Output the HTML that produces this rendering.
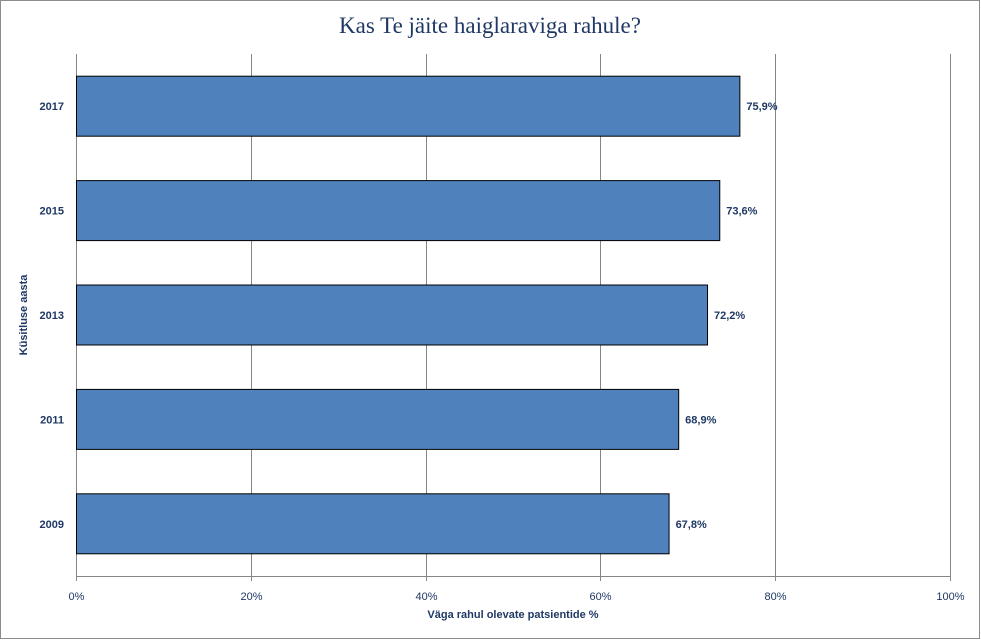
<!DOCTYPE html>
<html><head><meta charset="utf-8"><style>
body{margin:0;background:#fff;}
svg{display:block;font-family:"Liberation Sans",sans-serif;}
</style></head><body>
<svg id="c" width="981" height="640">
<rect x="0.5" y="0.5" width="979" height="638" fill="#fff" stroke="#8c8c8c"/>
<text x="490" y="33" text-anchor="middle" font-family="Liberation Serif, serif" font-size="23" fill="#1f3864">Kas Te jäite haiglaraviga rahule?</text>
<text x="513" y="618" text-anchor="middle" font-size="11" font-weight="bold" fill="#1f3864">Väga rahul olevate patsientide %</text>
<text transform="translate(27,315) rotate(-90)" text-anchor="middle" font-size="11" font-weight="bold" fill="#1f3864">Küsitluse aasta</text>
<g id="grid"></g><g id="bars"></g><g id="labels"></g>
</svg>
<script>
const categories=["2017","2015","2013","2011","2009"];
const values=[75.9,73.6,72.2,68.9,67.8];
const valueLabels=["75,9%","73,6%","72,2%","68,9%","67,8%"];
const ticks=[0,20,40,60,80,100];
const tickLabels=["0%","20%","40%","60%","80%","100%"];
const NS="http://www.w3.org/2000/svg";
const x0=76,x1=950,plotTop=54,plotBot=576;
const xs=v=>x0+(x1-x0)*v/100;
const band=(plotBot-plotTop)/categories.length;
const yc=i=>plotTop+band*(i+0.5);
function mk(t,a,p){const e=document.createElementNS(NS,t);for(const k in a)e.setAttribute(k,a[k]);document.getElementById(p).appendChild(e);return e;}
ticks.forEach((t,i)=>{
 const x=Math.round(xs(t))+0.5;
 const l=mk("line",{x1:x,x2:x,y1:plotTop,y2:plotBot+5,stroke:"#868686"},"grid");
 
 
 const tx=mk("text",{x:x,y:600,"text-anchor":"middle","font-size":"11",fill:"#1f3864"},"labels");
 tx.textContent=tickLabels[i];
 
 
});
const ax=mk("line",{x1:x0,x2:x1,y1:plotBot+0.5,y2:plotBot+0.5,stroke:"#868686"},"grid");


categories.forEach((c,i)=>{
 const bh=60,y=yc(i)-bh/2;
 const r=mk("rect",{x:x0+0.5,y:y,width:xs(values[i])-x0,height:bh,fill:"#4f81bd",stroke:"#000","stroke-width":"1"},"bars");
 
 
 const v=mk("text",{x:xs(values[i])+7,y:yc(i)+4,"font-size":"11","font-weight":"bold",fill:"#1f3864"},"labels");
 v.textContent=valueLabels[i];
 
 
 const cl=mk("text",{x:64,y:yc(i)+4,"text-anchor":"end","font-size":"11","font-weight":"bold",fill:"#1f3864"},"labels");
 cl.textContent=c;
 
 
});
</script>
</body></html>
